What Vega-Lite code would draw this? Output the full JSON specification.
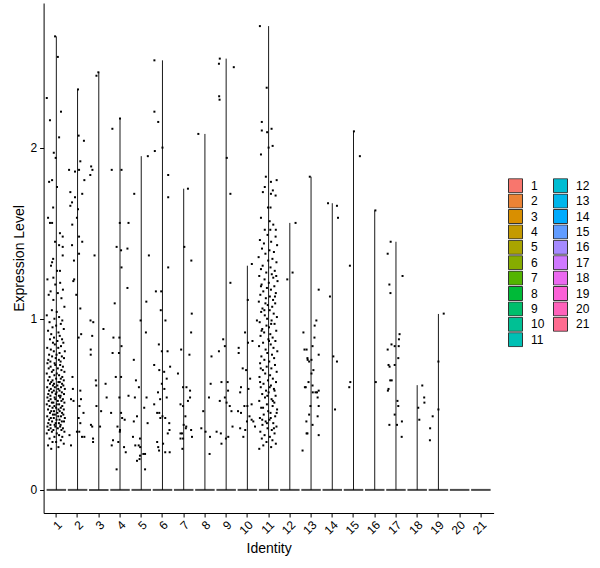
{
"$schema":"https://vega.github.io/schema/vega-lite/v6.json",
"width":450,"height":510,
"autosize":{"type":"none"},
"padding":{"left":43.6,"top":3,"right":106.4,"bottom":55},
"background":"white",
"config":{"view":{"stroke":null},"font":"Liberation Sans",
"axis":{"grid":false,"domainColor":"black","tickColor":"black","labelColor":"black","titleColor":"black","labelFont":"Liberation Sans","titleFont":"Liberation Sans","labelFontSize":12,"titleFontSize":14,"titleFontWeight":"normal","domainWidth":1,"tickWidth":1,"tickSize":4}},
"datasets":{
"clusters":[{"c":1,"max":2.65,"zero":0},{"c":2,"max":2.34,"zero":0},{"c":3,"max":2.44,"zero":0},{"c":4,"max":2.17,"zero":0},{"c":5,"max":1.95,"zero":0},{"c":6,"max":2.51,"zero":0},{"c":7,"max":1.76,"zero":0},{"c":8,"max":2.08,"zero":0},{"c":9,"max":2.52,"zero":0},{"c":10,"max":1.31,"zero":0},{"c":11,"max":2.71,"zero":0},{"c":12,"max":1.56,"zero":0},{"c":13,"max":1.83,"zero":0},{"c":14,"max":1.675,"zero":0},{"c":15,"max":2.095,"zero":0},{"c":16,"max":1.633,"zero":0},{"c":17,"max":1.45,"zero":0},{"c":18,"max":0.612,"zero":0},{"c":19,"max":1.028,"zero":0},{"c":20,"max":0,"zero":0},{"c":21,"max":0,"zero":0}],
"pts":[
{"c":1,"v":2.65,"j":-0.06},{"c":1,"v":2.53,"j":0.07},{"c":1,"v":2.29,"j":-0.45},{"c":1,"v":2.21,"j":0.22},{"c":1,"v":2.16,"j":-0.3},{"c":1,"v":2.06,"j":0.13},{"c":1,"v":1.97,"j":-0.12},{"c":1,"v":1.94,"j":-0.03},{"c":1,"v":1.8,"j":-0.34},{"c":1,"v":1.81,"j":-0.2},{"c":1,"v":1.77,"j":0.03},{"c":1,"v":1.65,"j":-0.15},{"c":1,"v":1.59,"j":-0.39},{"c":1,"v":1.56,"j":-0.3},{"c":1,"v":1.56,"j":-0.2},{"c":1,"v":1.5,"j":0.17},{"c":1,"v":1.48,"j":0.3},{"c":1,"v":1.45,"j":-0.06},{"c":1,"v":1.43,"j":0.13},{"c":1,"v":1.42,"j":0.3},{"c":1,"v":1.35,"j":-0.15},{"c":1,"v":1.33,"j":-0.2},{"c":1,"v":1.37,"j":0.3},{"c":1,"v":1.31,"j":-0.25},{"c":1,"v":1.28,"j":0.03},{"c":1,"v":1.28,"j":0.17},{"c":1,"v":1.24,"j":-0.14},
{"c":1,"v":1.23,"j":-0.42},{"c":1,"v":1.21,"j":0.18},{"c":1,"v":1.2,"j":-0.05},{"c":1,"v":1.17,"j":0.31},{"c":1,"v":1.16,"j":-0.27},{"c":1,"v":1.15,"j":0.07},{"c":1,"v":1.14,"j":-0.36},{"c":1,"v":1.12,"j":0.24},{"c":1,"v":1.11,"j":-0.14},{"c":1,"v":1.07,"j":0.38},{"c":1,"v":1.05,"j":-0.21},{"c":1,"v":1.04,"j":0.02},{"c":1,"v":1.02,"j":-0.45},{"c":1,"v":1.01,"j":0.13},
{"c":1,"v":1.0,"j":-0.09},{"c":1,"v":0.99,"j":0.28},{"c":1,"v":0.98,"j":-0.32},{"c":1,"v":0.97,"j":0.21},{"c":1,"v":0.96,"j":-0.01},{"c":1,"v":0.95,"j":-0.18},{"c":1,"v":0.94,"j":0.35},{"c":1,"v":0.93,"j":-0.39},{"c":1,"v":0.92,"j":0.1},{"c":1,"v":0.91,"j":-0.24},{"c":1,"v":0.9,"j":0.16},{"c":1,"v":0.89,"j":-0.11},{"c":1,"v":0.88,"j":0.27},{"c":1,"v":0.88,"j":-0.3},{"c":1,"v":0.87,"j":0.05},{"c":1,"v":0.86,"j":-0.16},{"c":1,"v":0.86,"j":0.33},{"c":1,"v":0.85,"j":-0.07},{"c":1,"v":0.84,"j":0.22},{"c":1,"v":0.83,"j":-0.43},{"c":1,"v":0.83,"j":0.09},{"c":1,"v":0.82,"j":-0.26},{"c":1,"v":0.81,"j":0.4},{"c":1,"v":0.81,"j":-0.12},{"c":1,"v":0.8,"j":0.15},
{"c":1,"v":0.79,"j":-0.34},{"c":1,"v":0.79,"j":0.01},{"c":1,"v":0.78,"j":0.26},{"c":1,"v":0.78,"j":-0.2},{"c":1,"v":0.77,"j":0.36},{"c":1,"v":0.77,"j":-0.03},{"c":1,"v":0.76,"j":-0.38},{"c":1,"v":0.76,"j":0.12},{"c":1,"v":0.75,"j":-0.28},{"c":1,"v":0.75,"j":0.2},{"c":1,"v":0.74,"j":-0.08},{"c":1,"v":0.74,"j":-0.42},{"c":1,"v":0.73,"j":0.18},{"c":1,"v":0.73,"j":-0.05},{"c":1,"v":0.72,"j":0.31},{"c":1,"v":0.72,"j":-0.27},{"c":1,"v":0.71,"j":0.07},{"c":1,"v":0.71,"j":-0.36},{"c":1,"v":0.7,"j":0.24},{"c":1,"v":0.7,"j":-0.14},{"c":1,"v":0.69,"j":0.38},{"c":1,"v":0.69,"j":-0.21},{"c":1,"v":0.68,"j":0.02},{"c":1,"v":0.68,"j":-0.45},{"c":1,"v":0.67,"j":0.13},{"c":1,"v":0.67,"j":-0.09},{"c":1,"v":0.66,"j":0.28},{"c":1,"v":0.66,"j":-0.32},{"c":1,"v":0.65,"j":0.21},{"c":1,"v":0.65,"j":-0.01},
{"c":1,"v":0.64,"j":-0.18},{"c":1,"v":0.64,"j":0.35},{"c":1,"v":0.64,"j":-0.39},{"c":1,"v":0.63,"j":0.1},{"c":1,"v":0.63,"j":-0.24},{"c":1,"v":0.63,"j":0.16},{"c":1,"v":0.62,"j":-0.11},{"c":1,"v":0.62,"j":0.27},{"c":1,"v":0.62,"j":-0.3},{"c":1,"v":0.61,"j":0.05},{"c":1,"v":0.61,"j":-0.16},{"c":1,"v":0.61,"j":0.33},{"c":1,"v":0.6,"j":-0.07},{"c":1,"v":0.6,"j":0.22},{"c":1,"v":0.6,"j":-0.43},{"c":1,"v":0.59,"j":0.09},{"c":1,"v":0.59,"j":-0.26},{"c":1,"v":0.59,"j":0.4},{"c":1,"v":0.58,"j":-0.12},{"c":1,"v":0.58,"j":0.15},{"c":1,"v":0.58,"j":-0.34},{"c":1,"v":0.57,"j":0.01},{"c":1,"v":0.57,"j":0.26},{"c":1,"v":0.57,"j":-0.2},{"c":1,"v":0.56,"j":0.36},{"c":1,"v":0.56,"j":-0.03},{"c":1,"v":0.56,"j":-0.38},{"c":1,"v":0.55,"j":0.12},{"c":1,"v":0.55,"j":-0.28},{"c":1,"v":0.55,"j":0.2},{"c":1,"v":0.54,"j":-0.08},{"c":1,"v":0.54,"j":-0.42},{"c":1,"v":0.54,"j":0.18},{"c":1,"v":0.53,"j":-0.05},{"c":1,"v":0.53,"j":0.31},{"c":1,"v":0.53,"j":-0.27},{"c":1,"v":0.52,"j":0.07},{"c":1,"v":0.52,"j":-0.36},{"c":1,"v":0.52,"j":0.24},{"c":1,"v":0.51,"j":-0.14},{"c":1,"v":0.51,"j":0.38},{"c":1,"v":0.51,"j":-0.21},{"c":1,"v":0.5,"j":0.02},{"c":1,"v":0.5,"j":-0.45},{"c":1,"v":0.5,"j":0.13},
{"c":1,"v":0.49,"j":-0.09},{"c":1,"v":0.49,"j":0.28},{"c":1,"v":0.49,"j":-0.32},{"c":1,"v":0.48,"j":0.21},{"c":1,"v":0.48,"j":-0.01},{"c":1,"v":0.48,"j":-0.18},{"c":1,"v":0.47,"j":0.35},{"c":1,"v":0.47,"j":-0.39},{"c":1,"v":0.47,"j":0.1},{"c":1,"v":0.46,"j":-0.24},{"c":1,"v":0.46,"j":0.16},{"c":1,"v":0.46,"j":-0.11},{"c":1,"v":0.45,"j":0.27},{"c":1,"v":0.45,"j":-0.3},{"c":1,"v":0.45,"j":0.05},{"c":1,"v":0.44,"j":-0.16},{"c":1,"v":0.44,"j":0.33},{"c":1,"v":0.44,"j":-0.07},{"c":1,"v":0.43,"j":0.22},{"c":1,"v":0.43,"j":-0.43},{"c":1,"v":0.43,"j":0.09},{"c":1,"v":0.42,"j":-0.26},{"c":1,"v":0.42,"j":0.4},{"c":1,"v":0.42,"j":-0.12},{"c":1,"v":0.41,"j":0.15},{"c":1,"v":0.41,"j":-0.34},{"c":1,"v":0.41,"j":0.01},{"c":1,"v":0.4,"j":0.26},{"c":1,"v":0.4,"j":-0.2},{"c":1,"v":0.4,"j":0.36},{"c":1,"v":0.39,"j":-0.03},{"c":1,"v":0.39,"j":-0.38},{"c":1,"v":0.39,"j":0.12},{"c":1,"v":0.38,"j":-0.28},{"c":1,"v":0.38,"j":0.2},{"c":1,"v":0.38,"j":-0.08},{"c":1,"v":0.37,"j":-0.42},{"c":1,"v":0.37,"j":0.18},{"c":1,"v":0.37,"j":-0.05},{"c":1,"v":0.36,"j":0.31},{"c":1,"v":0.36,"j":-0.27},{"c":1,"v":0.36,"j":0.07},{"c":1,"v":0.35,"j":-0.36},{"c":1,"v":0.35,"j":0.24},{"c":1,"v":0.35,"j":-0.14},
{"c":1,"v":0.34,"j":0.38},{"c":1,"v":0.34,"j":-0.21},{"c":1,"v":0.33,"j":0.02},{"c":1,"v":0.33,"j":-0.45},{"c":1,"v":0.32,"j":0.13},{"c":1,"v":0.31,"j":-0.09},{"c":1,"v":0.31,"j":0.28},{"c":1,"v":0.3,"j":-0.32},{"c":1,"v":0.29,"j":0.21},{"c":1,"v":0.28,"j":-0.01},{"c":1,"v":0.28,"j":-0.18},{"c":1,"v":0.27,"j":0.35},{"c":1,"v":0.26,"j":-0.39},{"c":1,"v":0.25,"j":0.1},{"c":1,"v":0.24,"j":-0.24},
{"c":2,"v":2.34,"j":0.02},{"c":2,"v":2.07,"j":0.05},{"c":2,"v":2.04,"j":0.3},{"c":2,"v":1.92,"j":0.13},{"c":2,"v":1.87,"j":-0.4},{"c":2,"v":1.86,"j":-0.12},{"c":2,"v":1.87,"j":0.07},{"c":2,"v":1.81,"j":0.32},{"c":2,"v":1.74,"j":-0.34},{"c":2,"v":1.71,"j":-0.12},{"c":2,"v":1.73,"j":0.22},{"c":2,"v":1.68,"j":-0.26},{"c":2,"v":1.66,"j":-0.34},{"c":2,"v":1.64,"j":0.02},{"c":2,"v":1.55,"j":-0.25},{"c":2,"v":1.59,"j":-0.03},{"c":2,"v":1.48,"j":0.07},{"c":2,"v":1.45,"j":0.22},{"c":2,"v":1.43,"j":-0.26},{"c":2,"v":1.38,"j":0.07},{"c":2,"v":1.34,"j":-0.17},{"c":2,"v":1.23,"j":-0.16},{"c":2,"v":1.22,"j":-0.2},{"c":2,"v":1.14,"j":-0.06},{"c":2,"v":1.06,"j":0.13},{"c":2,"v":0.89,"j":0.05},{"c":2,"v":0.91,"j":0.17},{"c":2,"v":0.66,"j":-0.24},{"c":2,"v":0.59,"j":-0.22},{"c":2,"v":0.58,"j":0.13},{"c":2,"v":0.52,"j":-0.19},{"c":2,"v":0.53,"j":-0.31},{"c":2,"v":0.53,"j":0.16},{"c":2,"v":0.49,"j":0.09},{"c":2,"v":0.45,"j":0.28},{"c":2,"v":0.42,"j":0.05},{"c":2,"v":0.39,"j":0.13},{"c":2,"v":0.34,"j":-0.03},{"c":2,"v":0.34,"j":0.08},{"c":2,"v":0.31,"j":0.21},{"c":2,"v":0.31,"j":0.32},{"c":2,"v":0.26,"j":-0.31},{"c":2,"v":0.32,"j":-0.38},
{"c":3,"v":2.44,"j":-0.02},{"c":3,"v":2.42,"j":-0.11},{"c":3,"v":1.89,"j":-0.36},{"c":3,"v":1.87,"j":-0.3},{"c":3,"v":1.84,"j":-0.4},{"c":3,"v":1.37,"j":-0.2},{"c":3,"v":0.99,"j":-0.39},{"c":3,"v":0.98,"j":-0.26},{"c":3,"v":0.9,"j":-0.31},{"c":3,"v":0.82,"j":-0.38},{"c":3,"v":0.79,"j":-0.38},{"c":3,"v":0.38,"j":-0.37},{"c":3,"v":0.37,"j":-0.31},{"c":3,"v":0.3,"j":-0.27},{"c":3,"v":0.28,"j":-0.27},{"c":3,"v":0.94,"j":0.22},{"c":3,"v":0.64,"j":-0.14},{"c":3,"v":0.61,"j":-0.12},{"c":3,"v":0.62,"j":0.32},{"c":3,"v":0.49,"j":-0.11},{"c":3,"v":0.46,"j":0.11},{"c":3,"v":0.37,"j":0.06},{"c":3,"v":0.54,"j":0.37},
{"c":4,"v":2.17,"j":0.0},{"c":4,"v":2.11,"j":-0.36},{"c":4,"v":1.87,"j":0.07},{"c":4,"v":1.87,"j":-0.39},{"c":4,"v":1.56,"j":-0.01},{"c":4,"v":1.56,"j":0.4},{"c":4,"v":1.42,"j":-0.16},{"c":4,"v":1.4,"j":0.05},{"c":4,"v":1.41,"j":0.35},{"c":4,"v":1.3,"j":0.07},{"c":4,"v":1.18,"j":0.35},{"c":4,"v":1.09,"j":-0.25},{"c":4,"v":0.89,"j":-0.31},{"c":4,"v":0.89,"j":-0.03},{"c":4,"v":0.84,"j":0.07},{"c":4,"v":0.8,"j":-0.35},{"c":4,"v":0.8,"j":-0.05},{"c":4,"v":0.66,"j":-0.2},{"c":4,"v":0.66,"j":0.05},{"c":4,"v":0.54,"j":-0.03},{"c":4,"v":0.55,"j":0.4},{"c":4,"v":0.45,"j":-0.42},{"c":4,"v":0.45,"j":0.05},{"c":4,"v":0.42,"j":0.1},{"c":4,"v":0.41,"j":0.22},{"c":4,"v":0.37,"j":-0.12},{"c":4,"v":0.35,"j":0.0},{"c":4,"v":0.34,"j":-0.01},{"c":4,"v":0.29,"j":-0.33},{"c":4,"v":0.28,"j":-0.08},{"c":4,"v":0.26,"j":-0.39},{"c":4,"v":0.25,"j":0.19},{"c":4,"v":0.22,"j":0.27},{"c":4,"v":0.12,"j":-0.16},
{"c":5,"v":1.95,"j":0.31},{"c":5,"v":1.73,"j":-0.33},{"c":5,"v":1.37,"j":0.36},{"c":5,"v":1.1,"j":0.24},{"c":5,"v":0.99,"j":-0.03},{"c":5,"v":0.92,"j":0.22},{"c":5,"v":0.76,"j":-0.35},{"c":5,"v":0.64,"j":-0.25},{"c":5,"v":0.6,"j":-0.11},{"c":5,"v":0.54,"j":-0.3},{"c":5,"v":0.54,"j":0.25},{"c":5,"v":0.48,"j":0.14},{"c":5,"v":0.43,"j":-0.2},{"c":5,"v":0.4,"j":-0.35},{"c":5,"v":0.39,"j":0.3},{"c":5,"v":0.31,"j":-0.39},{"c":5,"v":0.3,"j":-0.06},{"c":5,"v":0.26,"j":-0.28},{"c":5,"v":0.26,"j":-0.12},{"c":5,"v":0.25,"j":-0.05},{"c":5,"v":0.2,"j":-0.06},{"c":5,"v":0.21,"j":0.1},{"c":5,"v":0.21,"j":0.18},{"c":5,"v":0.17,"j":-0.2},{"c":5,"v":0.18,"j":-0.08},{"c":5,"v":0.12,"j":0.18},
{"c":6,"v":2.51,"j":-0.38},{"c":6,"v":2.21,"j":-0.38},{"c":6,"v":2.15,"j":-0.2},{"c":6,"v":1.98,"j":-0.36},{"c":6,"v":2.0,"j":0.0},{"c":6,"v":1.84,"j":0.27},{"c":6,"v":1.71,"j":0.27},{"c":6,"v":1.3,"j":0.27},{"c":6,"v":1.16,"j":-0.31},{"c":6,"v":1.16,"j":-0.06},{"c":6,"v":1.05,"j":-0.08},{"c":6,"v":0.99,"j":0.14},{"c":6,"v":0.85,"j":-0.17},{"c":6,"v":0.81,"j":0.24},{"c":6,"v":0.81,"j":-0.03},{"c":6,"v":0.72,"j":0.36},{"c":6,"v":0.73,"j":-0.39},{"c":6,"v":0.7,"j":-0.15},{"c":6,"v":0.69,"j":0.08},{"c":6,"v":0.65,"j":0.2},{"c":6,"v":0.62,"j":-0.03},{"c":6,"v":0.59,"j":0.09},{"c":6,"v":0.57,"j":-0.21},{"c":6,"v":0.54,"j":0.2},{"c":6,"v":0.53,"j":-0.11},{"c":6,"v":0.5,"j":-0.39},{"c":6,"v":0.45,"j":-0.25},{"c":6,"v":0.45,"j":-0.15},{"c":6,"v":0.43,"j":0.0},{"c":6,"v":0.42,"j":0.13},{"c":6,"v":0.42,"j":-0.1},{"c":6,"v":0.39,"j":0.32},{"c":6,"v":0.35,"j":0.33},{"c":6,"v":0.33,"j":0.25},{"c":6,"v":0.28,"j":-0.25},{"c":6,"v":0.27,"j":0.03},{"c":6,"v":0.23,"j":-0.16},{"c":6,"v":0.22,"j":0.13},{"c":6,"v":0.22,"j":0.34},{"c":6,"v":0.25,"j":-0.2},
{"c":7,"v":1.76,"j":0.2},{"c":7,"v":1.42,"j":0.03},{"c":7,"v":1.34,"j":0.36},{"c":7,"v":1.03,"j":0.38},{"c":7,"v":0.92,"j":0.35},{"c":7,"v":0.82,"j":-0.12},{"c":7,"v":0.79,"j":0.27},{"c":7,"v":0.68,"j":-0.27},{"c":7,"v":0.6,"j":-0.03},{"c":7,"v":0.6,"j":0.13},{"c":7,"v":0.58,"j":0.3},{"c":7,"v":0.5,"j":-0.15},{"c":7,"v":0.49,"j":-0.03},{"c":7,"v":0.54,"j":0.3},{"c":7,"v":0.52,"j":0.2},{"c":7,"v":0.43,"j":0.08},{"c":7,"v":0.37,"j":0.12},{"c":7,"v":0.38,"j":0.0},{"c":7,"v":0.36,"j":0.1},{"c":7,"v":0.33,"j":-0.15},{"c":7,"v":0.33,"j":-0.08},{"c":7,"v":0.3,"j":-0.15},{"c":7,"v":0.3,"j":-0.03},{"c":7,"v":0.24,"j":-0.06},{"c":7,"v":0.35,"j":0.35},{"c":7,"v":0.31,"j":0.39},
{"c":8,"v":2.08,"j":-0.31},{"c":8,"v":0.78,"j":0.31},{"c":8,"v":0.62,"j":0.27},{"c":8,"v":0.54,"j":0.19},{"c":8,"v":0.46,"j":-0.08},{"c":8,"v":0.36,"j":-0.17},{"c":8,"v":0.34,"j":0.03},{"c":8,"v":0.31,"j":0.24},{"c":8,"v":0.21,"j":0.22},
{"c":9,"v":2.52,"j":-0.3},{"c":9,"v":2.49,"j":-0.34},{"c":9,"v":2.47,"j":0.36},{"c":9,"v":2.3,"j":-0.33},{"c":9,"v":2.28,"j":-0.31},{"c":9,"v":1.94,"j":0.03},{"c":9,"v":1.73,"j":0.2},{"c":9,"v":1.21,"j":0.2},{"c":9,"v":0.81,"j":-0.34},{"c":9,"v":0.88,"j":-0.14},{"c":9,"v":0.84,"j":-0.06},{"c":9,"v":0.63,"j":-0.22},{"c":9,"v":0.63,"j":0.07},{"c":9,"v":0.58,"j":0.09},{"c":9,"v":0.54,"j":-0.06},{"c":9,"v":0.51,"j":0.02},{"c":9,"v":0.52,"j":-0.3},{"c":9,"v":0.49,"j":0.17},{"c":9,"v":0.46,"j":0.25},{"c":9,"v":0.37,"j":0.3},{"c":9,"v":0.34,"j":-0.45},{"c":9,"v":0.33,"j":-0.25},{"c":9,"v":0.3,"j":-0.01},{"c":9,"v":0.27,"j":-0.22},{"c":9,"v":0.31,"j":0.1},
{"c":10,"v":1.32,"j":0.21},{"c":10,"v":1.11,"j":0.02},{"c":10,"v":0.92,"j":-0.11},{"c":10,"v":0.86,"j":0.03},{"c":10,"v":0.87,"j":0.24},{"c":10,"v":0.83,"j":-0.41},{"c":10,"v":0.8,"j":-0.41},{"c":10,"v":0.71,"j":-0.22},{"c":10,"v":0.7,"j":-0.06},{"c":10,"v":0.65,"j":0.13},{"c":10,"v":0.6,"j":-0.3},{"c":10,"v":0.57,"j":-0.34},{"c":10,"v":0.59,"j":0.05},{"c":10,"v":0.49,"j":-0.14},{"c":10,"v":0.49,"j":0.0},{"c":10,"v":0.5,"j":0.2},{"c":10,"v":0.46,"j":-0.44},{"c":10,"v":0.45,"j":-0.3},{"c":10,"v":0.43,"j":0.1},{"c":10,"v":0.41,"j":0.2},{"c":10,"v":0.4,"j":-0.02},{"c":10,"v":0.36,"j":-0.34},{"c":10,"v":0.35,"j":-0.1},{"c":10,"v":0.4,"j":0.28},{"c":10,"v":0.31,"j":-0.19},{"c":10,"v":0.37,"j":0.36},{"c":10,"v":0.99,"j":0.45},
{"c":11,"v":2.71,"j":-0.41},{"c":11,"v":2.35,"j":-0.09},{"c":11,"v":2.15,"j":-0.32},{"c":11,"v":2.1,"j":-0.32},{"c":11,"v":2.09,"j":-0.07},{"c":11,"v":2.11,"j":0.14},{"c":11,"v":2.0,"j":0.0},{"c":11,"v":2.01,"j":0.19},{"c":11,"v":1.96,"j":-0.36},{"c":11,"v":1.83,"j":-0.13},{"c":11,"v":1.8,"j":0.11},{"c":11,"v":1.81,"j":0.38},{"c":11,"v":1.77,"j":-0.18},{"c":11,"v":1.74,"j":-0.27},{"c":11,"v":1.73,"j":0.11},{"c":11,"v":1.75,"j":0.2},{"c":11,"v":1.72,"j":0.33},{"c":11,"v":1.65,"j":-0.03},{"c":11,"v":1.65,"j":0.09},{"c":11,"v":1.59,"j":-0.36},{"c":11,"v":1.57,"j":0.05},{"c":11,"v":1.55,"j":0.22},{"c":11,"v":1.52,"j":-0.18},{"c":11,"v":1.52,"j":0.08},{"c":11,"v":1.52,"j":0.34},
{"c":11,"v":1.49,"j":-0.05},{"c":11,"v":1.48,"j":0.33},{"c":11,"v":1.46,"j":-0.41},{"c":11,"v":1.45,"j":0.12},{"c":11,"v":1.44,"j":-0.22},{"c":11,"v":1.43,"j":0.4},{"c":11,"v":1.41,"j":-0.31},{"c":11,"v":1.4,"j":0.04},{"c":11,"v":1.39,"j":0.25},{"c":11,"v":1.38,"j":-0.15},{"c":11,"v":1.36,"j":-0.47},{"c":11,"v":1.35,"j":0.18},{"c":11,"v":1.34,"j":-0.02},{"c":11,"v":1.33,"j":0.37},{"c":11,"v":1.31,"j":-0.28},{"c":11,"v":1.3,"j":0.09},{"c":11,"v":1.29,"j":-0.36},{"c":11,"v":1.28,"j":0.29},{"c":11,"v":1.27,"j":-0.11},{"c":11,"v":1.26,"j":0.15},{"c":11,"v":1.25,"j":-0.44},{"c":11,"v":1.24,"j":0.22},{"c":11,"v":1.23,"j":-0.19},{"c":11,"v":1.22,"j":0.42},{"c":11,"v":1.21,"j":0.01},{"c":11,"v":1.2,"j":-0.33},{"c":11,"v":1.19,"j":0.27},{"c":11,"v":1.18,"j":-0.08},{"c":11,"v":1.17,"j":0.11},{"c":11,"v":1.16,"j":-0.25},{"c":11,"v":1.15,"j":0.34},{"c":11,"v":1.14,"j":-0.39},{"c":11,"v":1.13,"j":0.06},{"c":11,"v":1.12,"j":-0.13},{"c":11,"v":1.11,"j":0.21},{"c":11,"v":1.1,"j":-0.46},{"c":11,"v":1.09,"j":0.31},{"c":11,"v":1.08,"j":-0.04},{"c":11,"v":1.07,"j":0.17},{"c":11,"v":1.06,"j":-0.29},
{"c":11,"v":1.05,"j":0.05},{"c":11,"v":1.04,"j":-0.35},{"c":11,"v":1.03,"j":0.24},{"c":11,"v":1.02,"j":-0.18},{"c":11,"v":1.01,"j":0.39},{"c":11,"v":1.0,"j":-0.07},{"c":11,"v":0.99,"j":0.14},{"c":11,"v":0.98,"j":-0.42},{"c":11,"v":0.97,"j":0.28},{"c":11,"v":0.96,"j":-0.1},{"c":11,"v":0.95,"j":0.02},{"c":11,"v":0.94,"j":-0.3},{"c":11,"v":0.93,"j":0.36},{"c":11,"v":0.92,"j":-0.21},{"c":11,"v":0.91,"j":0.08},{"c":11,"v":0.9,"j":-0.38},{"c":11,"v":0.89,"j":0.19},{"c":11,"v":0.88,"j":-0.01},{"c":11,"v":0.87,"j":0.32},{"c":11,"v":0.86,"j":-0.26},{"c":11,"v":0.85,"j":0.1},{"c":11,"v":0.84,"j":-0.45},{"c":11,"v":0.83,"j":0.23},{"c":11,"v":0.82,"j":-0.14},{"c":11,"v":0.81,"j":0.41},{"c":11,"v":0.8,"j":-0.06},{"c":11,"v":0.79,"j":0.16},{"c":11,"v":0.78,"j":-0.34},{"c":11,"v":0.77,"j":0.26},{"c":11,"v":0.76,"j":-0.2},{"c":11,"v":0.75,"j":0.03},{"c":11,"v":0.74,"j":-0.4},{"c":11,"v":0.73,"j":0.3},{"c":11,"v":0.72,"j":-0.09},{"c":11,"v":0.71,"j":0.13},{"c":11,"v":0.7,"j":-0.27},{"c":11,"v":0.69,"j":0.38},{"c":11,"v":0.68,"j":-0.16},{"c":11,"v":0.67,"j":0.07},{"c":11,"v":0.66,"j":-0.43},
{"c":11,"v":0.65,"j":0.2},{"c":11,"v":0.64,"j":-0.03},{"c":11,"v":0.63,"j":0.35},{"c":11,"v":0.62,"j":-0.24},{"c":11,"v":0.61,"j":0.11},{"c":11,"v":0.6,"j":-0.37},{"c":11,"v":0.59,"j":0.25},{"c":11,"v":0.58,"j":-0.12},{"c":11,"v":0.57,"j":0.0},{"c":11,"v":0.56,"j":-0.3},{"c":11,"v":0.55,"j":0.33},{"c":11,"v":0.54,"j":-0.17},{"c":11,"v":0.53,"j":0.14},{"c":11,"v":0.52,"j":-0.44},{"c":11,"v":0.51,"j":0.27},{"c":11,"v":0.5,"j":-0.08},{"c":11,"v":0.49,"j":0.19},{"c":11,"v":0.48,"j":-0.35},{"c":11,"v":0.47,"j":0.4},{"c":11,"v":0.46,"j":-0.02},{"c":11,"v":0.45,"j":0.09},{"c":11,"v":0.44,"j":-0.23},{"c":11,"v":0.43,"j":0.31},{"c":11,"v":0.42,"j":-0.41},{"c":11,"v":0.41,"j":0.04},{"c":11,"v":0.4,"j":-0.14},{"c":11,"v":0.39,"j":0.22},{"c":11,"v":0.38,"j":-0.29},{"c":11,"v":0.37,"j":0.37},{"c":11,"v":0.36,"j":-0.05},{"c":11,"v":0.35,"j":0.15},{"c":11,"v":0.34,"j":-0.39},{"c":11,"v":0.33,"j":0.28},{"c":11,"v":0.32,"j":-0.19},{"c":11,"v":0.31,"j":0.06},{"c":11,"v":0.3,"j":-0.32},{"c":11,"v":0.29,"j":0.18},{"c":11,"v":0.28,"j":-0.1},{"c":11,"v":0.27,"j":0.34},{"c":11,"v":0.26,"j":-0.25},{"c":11,"v":0.25,"j":0.12},{"c":11,"v":0.24,"j":-0.44},
{"c":11,"v":1.19,"j":-0.36},{"c":11,"v":1.13,"j":0.3},{"c":11,"v":1.05,"j":-0.2},{"c":11,"v":0.97,"j":0.12},{"c":11,"v":0.93,"j":-0.33},{"c":11,"v":0.87,"j":0.02},{"c":11,"v":0.63,"j":-0.4},{"c":11,"v":0.58,"j":0.28},{"c":11,"v":0.55,"j":-0.06},{"c":11,"v":0.52,"j":0.2},{"c":11,"v":0.48,"j":-0.26},{"c":11,"v":0.45,"j":0.38},{"c":11,"v":0.42,"j":0.1},{"c":11,"v":0.41,"j":-0.3},{"c":11,"v":0.39,"j":-0.08},{"c":11,"v":0.36,"j":0.25},{"c":11,"v":0.6,"j":0.05},{"c":11,"v":1.09,"j":-0.15},{"c":11,"v":1.25,"j":0.36},{"c":11,"v":0.71,"j":-0.37},
{"c":12,"v":1.56,"j":0.27},{"c":12,"v":1.27,"j":0.13},{"c":12,"v":1.23,"j":-0.12},
{"c":13,"v":1.83,"j":-0.06},{"c":13,"v":1.17,"j":0.36},{"c":13,"v":0.92,"j":-0.36},{"c":13,"v":0.82,"j":-0.31},{"c":13,"v":0.82,"j":-0.21},{"c":13,"v":0.99,"j":0.25},{"c":13,"v":0.96,"j":0.17},{"c":13,"v":0.89,"j":0.16},{"c":13,"v":0.84,"j":0.07},{"c":13,"v":0.79,"j":0.36},{"c":13,"v":0.77,"j":-0.17},{"c":13,"v":0.76,"j":-0.16},{"c":13,"v":0.75,"j":-0.09},{"c":13,"v":0.76,"j":0.02},{"c":13,"v":0.7,"j":0.11},{"c":13,"v":0.68,"j":0.02},{"c":13,"v":0.63,"j":-0.12},{"c":13,"v":0.6,"j":-0.25},{"c":13,"v":0.6,"j":-0.29},{"c":13,"v":0.61,"j":0.07},{"c":13,"v":0.57,"j":0.08},{"c":13,"v":0.57,"j":0.21},{"c":13,"v":0.57,"j":0.28},{"c":13,"v":0.58,"j":0.36},{"c":13,"v":0.54,"j":0.31},{"c":13,"v":0.49,"j":-0.03},{"c":13,"v":0.49,"j":0.36},{"c":13,"v":0.44,"j":-0.09},{"c":13,"v":0.43,"j":0.31},{"c":13,"v":0.4,"j":-0.22},{"c":13,"v":0.38,"j":0.07},{"c":13,"v":0.33,"j":-0.17},{"c":13,"v":0.33,"j":-0.21},{"c":13,"v":0.32,"j":0.36},{"c":13,"v":0.23,"j":-0.4},
{"c":14,"v":1.675,"j":-0.2},{"c":14,"v":1.66,"j":0.22},{"c":14,"v":1.59,"j":0.27},{"c":14,"v":1.13,"j":-0.11},{"c":14,"v":0.78,"j":0.05},{"c":14,"v":0.75,"j":0.22},{"c":14,"v":0.47,"j":0.13},
{"c":15,"v":2.095,"j":0.02},{"c":15,"v":1.95,"j":0.3},{"c":15,"v":1.31,"j":-0.17},{"c":15,"v":0.63,"j":-0.15},{"c":15,"v":0.6,"j":-0.2},
{"c":16,"v":1.633,"j":0.03},{"c":16,"v":0.63,"j":0.05},
{"c":17,"v":1.45,"j":-0.25},{"c":17,"v":1.38,"j":-0.39},{"c":17,"v":1.25,"j":0.31},{"c":17,"v":1.2,"j":-0.31},{"c":17,"v":1.15,"j":-0.26},{"c":17,"v":0.91,"j":0.17},{"c":17,"v":0.88,"j":0.14},{"c":17,"v":0.85,"j":-0.21},{"c":17,"v":0.84,"j":-0.06},{"c":17,"v":0.84,"j":0.13},{"c":17,"v":0.82,"j":-0.39},{"c":17,"v":0.77,"j":0.11},{"c":17,"v":0.73,"j":-0.06},{"c":17,"v":0.73,"j":-0.35},{"c":17,"v":0.72,"j":-0.3},{"c":17,"v":0.64,"j":-0.2},{"c":17,"v":0.64,"j":-0.27},{"c":17,"v":0.58,"j":-0.38},{"c":17,"v":0.59,"j":-0.35},{"c":17,"v":0.52,"j":0.07},{"c":17,"v":0.49,"j":0.11},{"c":17,"v":0.44,"j":-0.06},{"c":17,"v":0.38,"j":-0.31},{"c":17,"v":0.38,"j":0.05},{"c":17,"v":0.4,"j":0.28},{"c":17,"v":0.31,"j":0.27},
{"c":18,"v":0.61,"j":0.24},{"c":18,"v":0.48,"j":0.05},{"c":18,"v":0.54,"j":0.33},{"c":18,"v":0.51,"j":0.34},{"c":18,"v":0.41,"j":0.1},
{"c":19,"v":1.03,"j":0.25},{"c":19,"v":0.75,"j":0.0},{"c":19,"v":0.47,"j":0.0},{"c":19,"v":0.43,"j":-0.27},{"c":19,"v":0.36,"j":-0.39},{"c":19,"v":0.29,"j":-0.4}
]},
"layer":[
{"data":{"name":"clusters"},
"mark":{"type":"rule","color":"#1a1a1a","strokeWidth":1},
"encoding":{
"x":{"field":"c","type":"ordinal","scale":{"type":"band","paddingInner":0,"paddingOuter":0.1},
"axis":{"title":"Identity","labelAngle":-45,"labelAlign":"right","labelBaseline":"top","labelPadding":2,"titleY":35,"titleBaseline":"middle"}},
"y":{"field":"max","type":"quantitative","scale":{"domain":[-0.135,2.845],"nice":false,"zero":false},
"axis":{"title":"Expression Level","values":[0,1,2],"format":"d","labelPadding":3,"titleX":-23.6,"titleY":255,"titleAngle":-90,"titleAlign":"center","titleBaseline":"middle"}},
"y2":{"field":"zero"}}},
{"data":{"name":"clusters"},
"mark":{"type":"square","opacity":0,"size":4},
"encoding":{
"x":{"field":"c","type":"ordinal"},
"y":{"field":"zero","type":"quantitative"},
"color":{"field":"c","type":"nominal",
"scale":{"domain":[1,2,3,4,5,6,7,8,9,10,11,12,13,14,15,16,17,18,19,20,21],
"range":["#F8766D","#EB8335","#D98F00","#C49A00","#A9A400","#86AC00","#53B400","#00BA38","#00BE6C","#00C094","#00C0B4","#00BDD2","#00B6EB","#00ABFD","#619CFF","#A58AFF","#CF78FF","#EB69F0","#FB61D7","#FF62BA","#FF6C90"]},
"legend":{"title":null,"orient":"none","legendX":464.4,"legendY":175.2,"columns":2,"symbolType":"square","symbolSize":196,"labelFontSize":12,"labelFont":"Liberation Sans","labelColor":"black","clipHeight":15,"rowPadding":0.4,"columnPadding":8,"labelOffset":8,
"encode":{"symbols":{"update":{"opacity":{"value":1},"fillOpacity":{"value":1},"strokeOpacity":{"value":1},"stroke":{"value":"#333333"},"strokeWidth":{"value":1}}}}}}}},
{"data":{"name":"pts"},
"mark":{"type":"square","size":4,"color":"black","opacity":1},
"encoding":{
"x":{"field":"c","type":"ordinal"},
"xOffset":{"field":"j","type":"quantitative","scale":{"domain":[-0.5,0.5]}},
"y":{"field":"v","type":"quantitative"}}},
{"data":{"name":"clusters"},
"mark":{"type":"tick","orient":"horizontal","color":"black","size":19.5,"thickness":2},
"encoding":{
"x":{"field":"c","type":"ordinal"},
"y":{"field":"zero","type":"quantitative"}}}
]
}
